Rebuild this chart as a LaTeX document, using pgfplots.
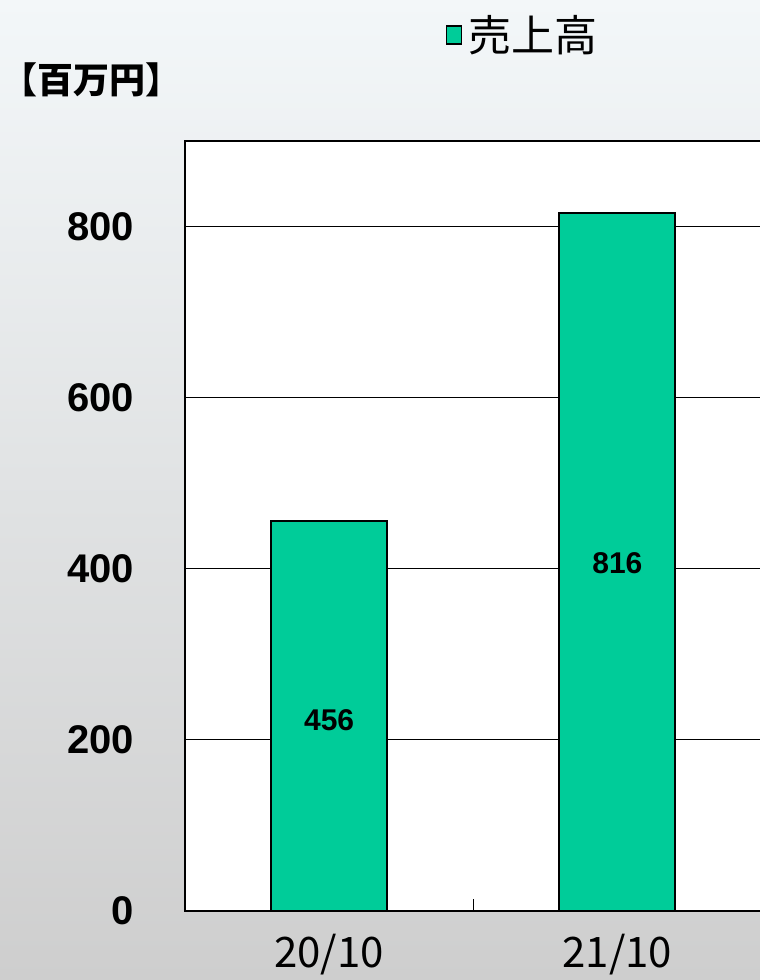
\documentclass[border=0pt]{standalone}
\usepackage{pgfplots}
\pgfplotsset{compat=1.18}
\usepackage{fontspec}
\setmainfont{Liberation Sans}
\newfontfamily\jp{Noto Sans CJK JP}
\definecolor{barcol}{RGB}{0,204,153}
\definecolor{bgtop}{RGB}{243,247,249}
\definecolor{bgmid}{RGB}{228,235,238}
\definecolor{bgbot}{RGB}{206,206,206}
\begin{document}
\begin{tikzpicture}
\useasboundingbox (0,0) rectangle (380pt,490pt);
\clip (0,0) rectangle (380pt,490pt);
\shade[top color=bgtop, middle color=bgmid, bottom color=bgbot] (0,0) rectangle (380pt,490pt);
\begin{axis}[
  at={(92.5pt,34.5pt)}, anchor=south west,
  scale only axis, width=288.25pt, height=385pt,
  xmin=-0.5, xmax=1.5, ymin=0, ymax=900,
  axis background/.style={fill=white},
  axis line style={black, line width=0.9pt},
  xtick={0,1}, xticklabels={20/10,21/10},
  xtick pos=bottom, ytick pos=left,
  major tick length=0pt,
  extra x ticks={0.5}, extra x tick labels={},
  extra x tick style={major tick length=6pt, tick align=inside, grid=none, tick style={black, line width=0.5pt}},
  xticklabel style={font=\jp\fontsize{21}{21}\selectfont, anchor=center, yshift=-22pt},
  ytick={0,200,400,600,800},
  ymajorgrids, grid style={black, line width=0.5pt},
  yticklabel style={font=\bfseries\fontsize{20}{20}\selectfont, anchor=east, xshift=-22pt},
  /pgf/number format/assume math mode=true,
  legend style={at={(0.587,1.138)}, anchor=center, draw=none, fill=none,
    font=\jp\fontsize{21.5}{21.5}\selectfont, inner sep=0pt,
    /tikz/every even column/.append style={column sep=0pt}},
  legend image code/.code={\draw[fill=barcol, draw=black, line width=0.6pt] (0pt,-4.6pt) rectangle (7.5pt,4.4pt);},
  legend cell align=left,
]
\addplot[ybar, bar width=58pt, fill=barcol, draw=black, line width=0.9pt] coordinates {(0,456) (1,816)};
\addlegendentry{\hspace{1pt}売上高}
\addplot[draw=none, mark=none, nodes near coords, point meta=explicit symbolic,
  every node near coord/.append style={anchor=center, font=\bfseries\fontsize{15}{15}\selectfont}, forget plot]
  coordinates {(0,223)[456] (1,406)[816]};
\end{axis}
\node[font=\jp\bfseries\fontsize{18}{18}\selectfont, anchor=west, inner sep=0pt] at (0.5pt,450pt) {【百万円】};
\end{tikzpicture}
\end{document}
